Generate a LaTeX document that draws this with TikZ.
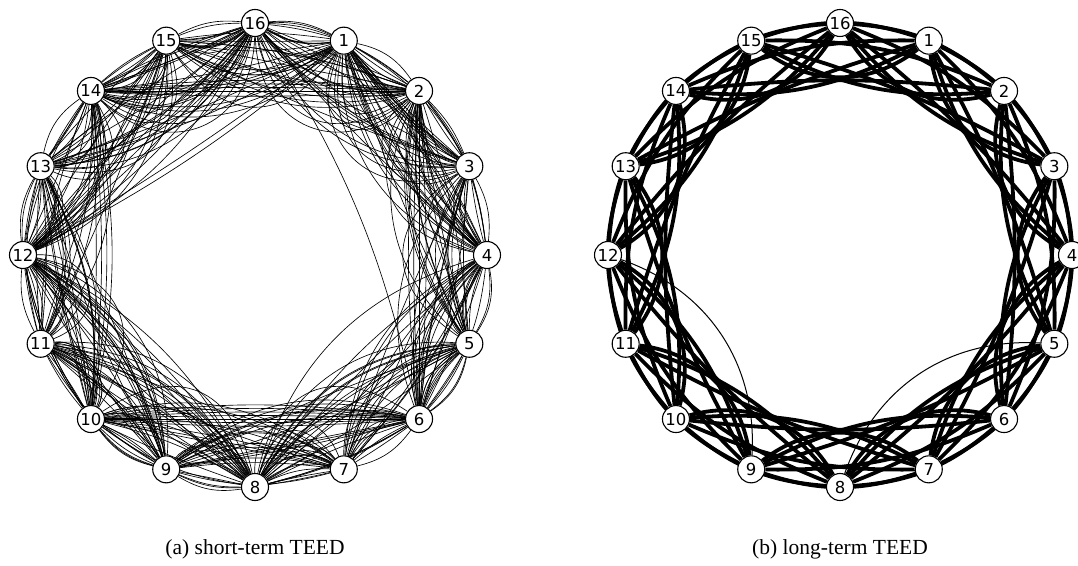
\documentclass[tikz,border=0pt]{standalone}
\usepackage{fontspec}
\setmainfont{Liberation Serif}
\newfontfamily\nodefont{DejaVu Sans}
\usetikzlibrary{backgrounds}
\tikzset{
  vtx/.style={circle, draw=black, fill=white, line width=1.1pt, minimum size=27pt, inner sep=0pt,
    font=\nodefont\fontsize{16.5}{16.5}\selectfont},
  thinedge/.style={line width=0.65pt, black},
  thickedge/.style={line width=3.8pt, black},
  capt/.style={font=\fontsize{21.5}{24}\selectfont, inner sep=0pt}
}
\begin{document}
\begin{tikzpicture}[x=1pt,y=1pt]
\useasboundingbox (0,0) rectangle (1078,565);
\foreach \k in {1,...,16} {
  \node[vtx] (a\k) at ({255+232*cos(90-22.5*\k)}, {310+232*sin(90-22.5*\k)}) {\k};
  \node[vtx] (b\k) at ({840+232*cos(90-22.5*\k)}, {310+232*sin(90-22.5*\k)}) {\k};
}
\node[capt] (capa) at (255,16) {(a) short-term TEED};
\node[capt] (capb) at (840,16) {(b) long-term TEED};
\begin{pgfonlayer}{background}
% ---------- (a) short-term: thin multi-edges ----------
\pgfmathsetseed{4242}
\foreach \i in {1,...,16} {
  \foreach \k/\n/\lo/\hi in {1/8/-22/64, 2/7/-16/50, 3/6/-10/34} {
    \pgfmathtruncatemacro\j{mod(\i+\k-1,16)+1}
    \pgfmathtruncatemacro\nn{\n-2+random(0,4)}
    \foreach \m in {1,...,\nn} {
      \pgfmathsetmacro\b{\lo+rnd*(\hi-\lo)}
      \draw[thinedge] (a\i) to[bend right=\b] (a\j);
    }
  }
}
\foreach \i/\j/\bl/\lo in {
  1/2/{60,72,84}/2.2, 2/3/{60,75,88}/2.0, 13/14/{62,80}/2.0, 14/15/{60,75}/2.1,
  7/8/{62,80}/1.8, 11/12/{65,80}/1.8, 15/16/{65}/1.8, 3/4/{65}/1.8, 16/1/{70}/1.8,
  16/2/{56,66}/1.4, 14/16/{56,66}/1.4, 1/3/{56,68}/1.4, 2/4/{56}/1.4, 6/8/{56}/1.4, 8/10/{56}/1.4,
  13/15/{56}/1.4, 10/12/{56}/1.4, 3/5/{56}/1.4, 15/1/{56}/1.4,
  13/16/{-4,6,16,26,38}/1, 9/12/{-4,6,16,26,38}/1, 8/11/{-4,6,16,26,38}/1, 5/8/{-4,6,16,26,38}/1,
  1/4/{-4,6,16,26,38}/1, 2/5/{6,16,26,38}/1, 12/15/{16,36}/1, 16/3/{16,36}/1, 14/1/{16,36}/1,
  6/9/{16,30}/1, 4/7/{16,30}/1, 10/13/{16}/1,
  14/2/{-6,-4,-2,0,3}/1, 10/6/{-8,-6,-4,-2,0,2,4}/1, 2/6/{-4,0,3,6}/1, 10/14/{3,6,9,12}/1,
  15/3/{-6,4}/1, 16/4/{-6,4}/1, 1/5/{-6,4}/1, 3/7/{-6,4}/1, 4/8/{-6,4,12,28}/1,
  5/9/{-6,4}/1, 7/11/{-6,4}/1, 8/12/{-6,0,4,8,12,18}/1, 9/13/{-6,4}/1, 11/15/{-6,4}/1,
  12/16/{-6,0,4,8,12,18}/1, 13/1/{4,9}/1, 16/6/{-10}/1, 12/1/{3,6}/1}
{
  \foreach \b in \bl { \draw[thinedge] (a\i) to[bend right=\b, looseness=\lo] (a\j); }
}
% ---------- (b) long-term: thick edges ----------
\foreach \i in {1,...,16} {
  \pgfmathtruncatemacro\jtwo{mod(\i+1,16)+1}
  \pgfmathtruncatemacro\jthree{mod(\i+2,16)+1}
  \pgfmathtruncatemacro\jfour{mod(\i+3,16)+1}
  \draw[thickedge] (b\i) to[bend right=-18] (b\jtwo);
  \draw[thickedge] (b\i) to[bend right=38] (b\jtwo);
  \draw[thickedge] (b\i) to[bend right=-12] (b\jthree);
  \draw[thickedge] (b\i) to[bend right=16] (b\jthree);
  \draw[thickedge] (b\i) to[bend right=-6] (b\jfour);
}
\draw[thinedge, line width=1pt] (b5) to[bend right=37] (b8);
\draw[thinedge, line width=1pt] (b9) to[bend right=37] (b12);
\end{pgfonlayer}
\end{tikzpicture}
\end{document}
